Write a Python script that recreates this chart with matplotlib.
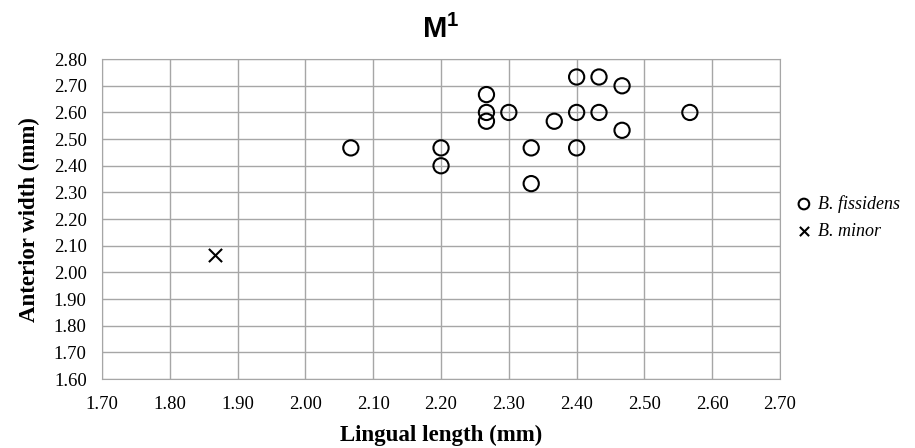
import matplotlib.pyplot as plt

plt.rcParams['mathtext.fontset'] = 'custom'
plt.rcParams['mathtext.bf'] = 'Liberation Sans:bold'
plt.rcParams['mathtext.rm'] = 'Liberation Sans'

# B. fissidens measurements (lingual length, anterior width)
fis_length = [2.067, 2.200, 2.200, 2.267, 2.267, 2.267, 2.300, 2.333, 2.333,
              2.367, 2.400, 2.400, 2.400, 2.433, 2.433, 2.467, 2.467, 2.567]
fis_width = [2.467, 2.467, 2.400, 2.667, 2.600, 2.567, 2.600, 2.467, 2.333,
             2.567, 2.733, 2.600, 2.467, 2.733, 2.600, 2.700, 2.533, 2.600]

# B. minor
min_length = [1.867]
min_width = [2.067]

x_ticks = [1.70 + 0.1 * i for i in range(11)]
y_ticks = [1.60 + 0.1 * i for i in range(13)]

fig = plt.figure(figsize=(9.15, 4.48), dpi=100)
ax = fig.add_axes([0.1115, 0.154, 0.741, 0.714])

ax.scatter(fis_length, fis_width, s=120, facecolors='none', edgecolors='black',
           linewidths=1.5, label='B. fissidens', zorder=3)
ax.scatter(min_length, min_width, s=90, marker='x', color='black',
           linewidths=1.5, label='B. minor', zorder=3)

ax.set_xlim(1.70, 2.70)
ax.set_ylim(1.60, 2.80)
ax.set_xticks(x_ticks)
ax.set_yticks(y_ticks)
ax.set_xticklabels(['%.2f' % v for v in x_ticks], family='Liberation Serif', fontsize=13.5)
ax.set_yticklabels(['%.2f' % v for v in y_ticks], family='Liberation Serif', fontsize=13.5)
ax.tick_params(axis='x', length=0, pad=12)
ax.tick_params(axis='y', length=0, pad=11)
ax.grid(True, color='#a6a6a6', linewidth=1)
ax.set_axisbelow(True)
for s in ax.spines.values():
    s.set_color('#a6a6a6')

ax.set_xlabel('Lingual length (mm)', family='Liberation Serif', fontweight='bold',
              fontsize=16.5, labelpad=9)
ax.set_ylabel('Anterior width (mm)', family='Liberation Serif', fontweight='bold',
              fontsize=16.5, labelpad=10)
fig.text(0.482, 0.935, r'$\mathbf{M}^{\mathbf{1}}$', ha='center', va='center',
         fontsize=21)

fig.legend(loc='center left', bbox_to_anchor=(0.849, 0.515), frameon=False,
           prop={'family': 'Liberation Serif', 'style': 'italic', 'size': 13},
           handletextpad=0.2, handlelength=1.2, labelspacing=0.55, markerscale=0.7)

fig.savefig('out.png', dpi=100)
